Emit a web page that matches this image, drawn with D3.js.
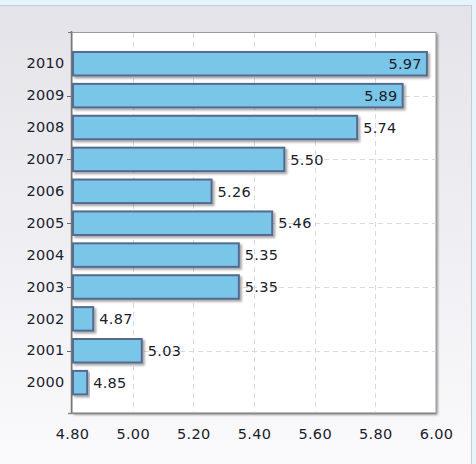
<!DOCTYPE html>
<html><head><meta charset="utf-8">
<script src="https://cdn.jsdelivr.net/npm/d3@7"></script>
<style>
html,body{margin:0;padding:0;background:#e4f5fc;}
svg{display:block;}
text{font-family:"DejaVu Sans",Verdana,sans-serif;font-size:14.5px;fill:#1c1c2c;letter-spacing:0.3px;}
</style></head>
<body>
<script>
const years = ["2000","2001","2002","2003","2004","2005","2006","2007","2008","2009","2010"];
const values = [4.85,5.03,4.87,5.35,5.35,5.46,5.26,5.50,5.74,5.89,5.97];
const xTicks = [4.80,5.00,5.20,5.40,5.60,5.80,6.00];
const xDomain = [4.80,6.00];

const W=476,H=464;
const svg=d3.select("body").append("svg").attr("width",W).attr("height",H);
const defs=svg.append("defs");
const g1=defs.append("linearGradient").attr("id","pg").attr("x1",0).attr("y1",0).attr("x2",0).attr("y2",1);
g1.append("stop").attr("offset","0%").attr("stop-color","#e3e3e9");
g1.append("stop").attr("offset","100%").attr("stop-color","#fbfbfd");
const f=defs.append("filter").attr("id","sh").attr("x","-10%").attr("y","-10%").attr("width","130%").attr("height","140%");
f.append("feDropShadow").attr("dx",2).attr("dy",2).attr("stdDeviation",1).attr("flood-color","#000").attr("flood-opacity",0.35);

// panel
svg.append("rect").attr("x",-1).attr("y",5.5).attr("width",472.5).attr("height",470)
  .attr("fill","url(#pg)").attr("stroke","#c9ccd2");

const L=72,R=436,T=32,B=413;
const x=d3.scaleLinear().domain(xDomain).range([L,R]);
const y=d3.scaleBand().domain(years.slice().reverse()).range([47.8,398.6]).paddingInner(0.2).paddingOuter(0.1);

// plot background with shadow
svg.append("rect").attr("x",L).attr("y",T).attr("width",R-L).attr("height",B-T)
  .attr("fill","#fff").attr("filter","url(#sh)");
svg.append("rect").attr("x",L).attr("y",T+0.5).attr("width",R-L).attr("height",B-T-0.5)
  .attr("fill","none").attr("stroke","#9a9a9a").attr("stroke-width",1);

// grid
svg.append("g").selectAll("line").data(xTicks.slice(1,-1)).join("line")
  .attr("x1",d=>Math.round(x(d))+0.5).attr("x2",d=>Math.round(x(d))+0.5).attr("y1",T+1).attr("y2",B)
  .attr("stroke","#dadada").attr("stroke-dasharray","5,4");
const oddYears=years.filter((d,i)=>i%2===1);
svg.append("g").selectAll("line").data(oddYears).join("line")
  .attr("x1",L).attr("x2",R).attr("y1",d=>Math.round(y(d)+y.bandwidth()/2)+0.5).attr("y2",d=>Math.round(y(d)+y.bandwidth()/2)+0.5)
  .attr("stroke","#dadada").attr("stroke-dasharray","5,4");

// bars
const data=years.map((yr,i)=>({yr,v:values[i]}));
svg.append("g").selectAll("rect").data(data).join("rect")
  .attr("x",x(xDomain[0])+1).attr("y",d=>y(d.yr)+1)
  .attr("width",d=>x(d.v)-x(xDomain[0])-1).attr("height",y.bandwidth()-2)
  .attr("fill","#79c6e8").attr("stroke","#56698f").attr("stroke-width",2)
  .attr("filter","url(#sh)");

// value labels
const lab=svg.append("g");
data.forEach(d=>{
  const t=lab.append("text").text(d.v.toFixed(2)).attr("y",y(d.yr)+y.bandwidth()/2).attr("dy","0.36em");
  const w=t.node().getComputedTextLength();
  if(x(d.v)+6+w>R){ t.attr("x",x(d.v)-5).attr("text-anchor","end"); }
  else { t.attr("x",x(d.v)+6); }
});

// y axis
const ya=svg.append("g").attr("transform",`translate(${L-0.5},0)`)
  .call(d3.axisLeft(y).tickSize(0).tickPadding(7));
ya.select(".domain").remove();
ya.selectAll("text").attr("font-family",null).attr("font-size",null).attr("fill",null);
svg.append("g").selectAll("line").data(oddYears).join("line")
  .attr("x1",L-5).attr("x2",L).attr("y1",d=>Math.round(y(d)+y.bandwidth()/2)+0.5).attr("y2",d=>Math.round(y(d)+y.bandwidth()/2)+0.5)
  .attr("stroke","#666");
svg.append("line").attr("x1",L-0.5).attr("x2",L-0.5).attr("y1",T-1).attr("y2",B+1).attr("stroke","#777").attr("stroke-width",1.5);
svg.append("line").attr("x1",L-4).attr("x2",R).attr("y1",B+0.5).attr("y2",B+0.5).attr("stroke","#888").attr("stroke-width",1.5);
svg.append("line").attr("x1",L-4).attr("x2",L).attr("y1",T+0.5).attr("y2",T+0.5).attr("stroke","#777");

// x axis
const xa=svg.append("g").attr("transform",`translate(0,${B})`)
  .call(d3.axisBottom(x).tickValues(xTicks).tickFormat(d3.format(".2f")).tickSize(0).tickPadding(16));
xa.select(".domain").remove();
xa.selectAll("text").attr("font-family",null).attr("font-size",null).attr("fill",null);
</script>
</body></html>
